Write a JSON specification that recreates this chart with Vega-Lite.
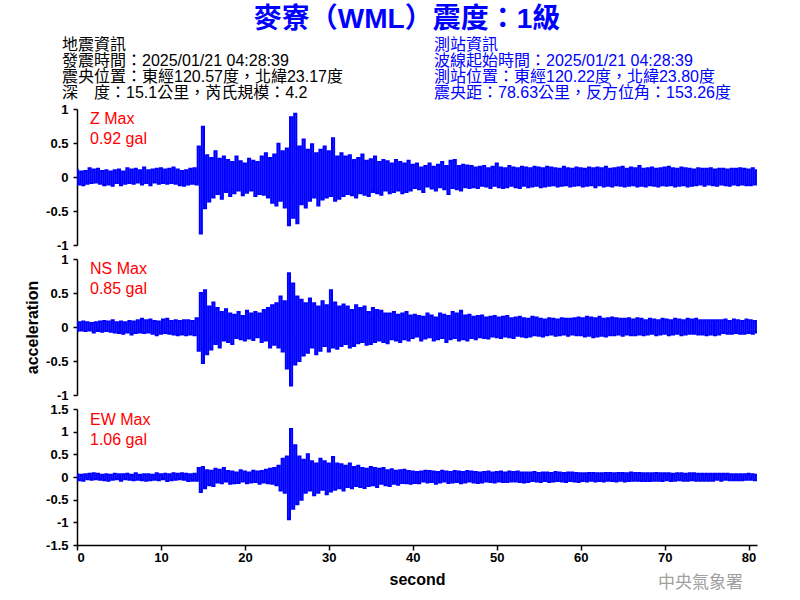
{
"$schema":"https://vega.github.io/schema/vega-lite/v6.json",
"background":"white",
"padding":{"left":24,"top":6,"right":5,"bottom":5},
"spacing":14,
"bounds":"flush",
"config":{
"font":"Liberation Sans",
"locale":{"number":{"decimal":".","thousands":",","grouping":[3],"currency":["$",""],"minus":"-"}},
"view":{"stroke":null},
"axis":{"domainColor":"#000000","domainWidth":1.5,"tickColor":"#000000","tickWidth":1.5,"labelColor":"#000000","labelFont":"Liberation Sans","labelFontSize":13,"labelFontWeight":"bold","labelOverlap":false,"titleFont":"Liberation Sans","titleFontSize":16,"titleFontWeight":"bold","titleColor":"#000000","grid":false},
"axisY":{"tickSize":4,"labelPadding":5,"titlePadding":5},
"axisX":{"tickSize":5,"labelPadding":1,"titlePadding":7}
},
"datasets":{
"info":[
{"side":"L","line":1,"text":"地震資訊"},
{"side":"L","line":2,"text":"發震時間：2025/01/21 04:28:39"},
{"side":"L","line":3,"text":"震央位置：東經120.57度，北緯23.17度"},
{"side":"L","line":4,"text":"深　度：15.1公里，芮氏規模：4.2"},
{"side":"R","line":1,"text":"測站資訊"},
{"side":"R","line":2,"text":"波線起始時間：2025/01/21 04:28:39"},
{"side":"R","line":3,"text":"測站位置：東經120.22度，北緯23.80度"},
{"side":"R","line":4,"text":"震央距：78.63公里，反方位角：153.26度"}
],
"w":[
{"t":0,"z":0.1,"n":-0.06,"e":0.06},
{"t":0.25,"z":-0.11,"n":0.07,"e":-0.07},
{"t":0.5,"z":0.08,"n":-0.05,"e":0.05},
{"t":0.75,"z":-0.12,"n":0.08,"e":-0.08},
{"t":1,"z":0.09,"n":-0.06,"e":0.06},
{"t":1.25,"z":-0.1,"n":0.07,"e":-0.05},
{"t":1.5,"z":0.13,"n":-0.05,"e":0.07},
{"t":1.75,"z":-0.09,"n":0.06,"e":-0.06},
{"t":2,"z":0.11,"n":-0.08,"e":0.08},
{"t":2.25,"z":-0.08,"n":0.07,"e":-0.05},
{"t":2.5,"z":0.12,"n":-0.06,"e":0.07},
{"t":2.75,"z":-0.1,"n":0.08,"e":-0.06},
{"t":3,"z":0.09,"n":-0.07,"e":0.05},
{"t":3.25,"z":-0.12,"n":0.09,"e":-0.07},
{"t":3.5,"z":0.1,"n":-0.06,"e":0.06},
{"t":3.75,"z":-0.11,"n":0.08,"e":-0.08},
{"t":4,"z":0.08,"n":-0.07,"e":0.05},
{"t":4.25,"z":-0.13,"n":0.1,"e":-0.06},
{"t":4.5,"z":0.1,"n":-0.08,"e":0.07},
{"t":4.75,"z":-0.09,"n":0.07,"e":-0.05},
{"t":5,"z":0.11,"n":-0.09,"e":0.06},
{"t":5.25,"z":-0.12,"n":0.08,"e":-0.08},
{"t":5.5,"z":0.08,"n":-0.1,"e":0.06},
{"t":5.75,"z":-0.1,"n":0.07,"e":-0.05},
{"t":6,"z":0.13,"n":-0.08,"e":0.07},
{"t":6.25,"z":-0.09,"n":0.09,"e":-0.06},
{"t":6.5,"z":0.11,"n":-0.11,"e":0.05},
{"t":6.75,"z":-0.1,"n":0.08,"e":-0.07},
{"t":7,"z":0.12,"n":-0.09,"e":0.08},
{"t":7.25,"z":-0.08,"n":0.1,"e":-0.06},
{"t":7.5,"z":0.1,"n":-0.08,"e":0.05},
{"t":7.75,"z":-0.11,"n":0.12,"e":-0.07},
{"t":8,"z":0.14,"n":-0.09,"e":0.06},
{"t":8.25,"z":-0.09,"n":0.1,"e":-0.08},
{"t":8.5,"z":0.1,"n":-0.08,"e":0.06},
{"t":8.75,"z":-0.12,"n":0.11,"e":-0.07},
{"t":9,"z":0.11,"n":-0.1,"e":0.05},
{"t":9.25,"z":-0.08,"n":0.09,"e":-0.06},
{"t":9.5,"z":0.12,"n":-0.12,"e":0.08},
{"t":9.75,"z":-0.1,"n":0.08,"e":-0.07},
{"t":10,"z":0.13,"n":-0.1,"e":0.06},
{"t":10.25,"z":-0.09,"n":0.11,"e":-0.05},
{"t":10.5,"z":0.11,"n":-0.09,"e":0.07},
{"t":10.75,"z":-0.1,"n":0.12,"e":-0.09},
{"t":11,"z":0.12,"n":-0.1,"e":0.06},
{"t":11.25,"z":-0.09,"n":0.09,"e":-0.07},
{"t":11.5,"z":0.14,"n":-0.11,"e":0.08},
{"t":11.75,"z":-0.1,"n":0.1,"e":-0.06},
{"t":12,"z":0.11,"n":-0.12,"e":0.07},
{"t":12.25,"z":-0.12,"n":0.09,"e":-0.05},
{"t":12.5,"z":0.09,"n":-0.11,"e":0.08},
{"t":12.75,"z":-0.13,"n":0.1,"e":-0.06},
{"t":13,"z":0.1,"n":-0.12,"e":0.07},
{"t":13.25,"z":-0.11,"n":0.1,"e":-0.09},
{"t":13.5,"z":0.12,"n":-0.11,"e":0.06},
{"t":13.75,"z":-0.1,"n":0.09,"e":-0.08},
{"t":14,"z":0.13,"n":-0.12,"e":0.07},
{"t":14.25,"z":-0.11,"n":0.13,"e":-0.08},
{"t":14.5,"z":0.45,"n":-0.35,"e":0.2},
{"t":14.75,"z":-0.83,"n":0.5,"e":-0.33},
{"t":15,"z":0.74,"n":-0.53,"e":0.22},
{"t":15.25,"z":-0.46,"n":0.54,"e":-0.25},
{"t":15.5,"z":0.32,"n":-0.4,"e":0.15},
{"t":15.75,"z":-0.36,"n":0.3,"e":-0.18},
{"t":16,"z":0.28,"n":-0.33,"e":0.14},
{"t":16.25,"z":-0.3,"n":0.36,"e":-0.2},
{"t":16.5,"z":0.38,"n":-0.25,"e":0.18},
{"t":16.75,"z":-0.25,"n":0.28,"e":-0.12},
{"t":17,"z":0.27,"n":-0.3,"e":0.16},
{"t":17.25,"z":-0.32,"n":0.22,"e":-0.14},
{"t":17.5,"z":0.3,"n":-0.2,"e":0.2},
{"t":17.75,"z":-0.22,"n":0.26,"e":-0.1},
{"t":18,"z":0.25,"n":-0.22,"e":0.13},
{"t":18.25,"z":-0.28,"n":0.2,"e":-0.15},
{"t":18.5,"z":0.22,"n":-0.25,"e":0.12},
{"t":18.75,"z":-0.24,"n":0.18,"e":-0.14},
{"t":19,"z":0.3,"n":-0.16,"e":0.1},
{"t":19.25,"z":-0.2,"n":0.22,"e":-0.13},
{"t":19.5,"z":0.23,"n":-0.18,"e":0.15},
{"t":19.75,"z":-0.27,"n":0.16,"e":-0.1},
{"t":20,"z":0.2,"n":-0.2,"e":0.12},
{"t":20.25,"z":-0.23,"n":0.24,"e":-0.14},
{"t":20.5,"z":0.27,"n":-0.17,"e":0.1},
{"t":20.75,"z":-0.2,"n":0.2,"e":-0.12},
{"t":21,"z":0.24,"n":-0.19,"e":0.14},
{"t":21.25,"z":-0.28,"n":0.22,"e":-0.11},
{"t":21.5,"z":0.22,"n":-0.15,"e":0.12},
{"t":21.75,"z":-0.25,"n":0.2,"e":-0.15},
{"t":22,"z":0.3,"n":-0.22,"e":0.13},
{"t":22.25,"z":-0.26,"n":0.25,"e":-0.12},
{"t":22.5,"z":0.35,"n":-0.2,"e":0.16},
{"t":22.75,"z":-0.3,"n":0.28,"e":-0.14},
{"t":23,"z":0.28,"n":-0.3,"e":0.18},
{"t":23.25,"z":-0.38,"n":0.32,"e":-0.15},
{"t":23.5,"z":0.33,"n":-0.26,"e":0.2},
{"t":23.75,"z":-0.42,"n":0.35,"e":-0.18},
{"t":24,"z":0.49,"n":-0.3,"e":0.25},
{"t":24.25,"z":-0.35,"n":0.45,"e":-0.3},
{"t":24.5,"z":0.38,"n":-0.36,"e":0.4},
{"t":24.75,"z":-0.45,"n":0.38,"e":-0.35},
{"t":25,"z":0.42,"n":-0.61,"e":0.45},
{"t":25.25,"z":-0.71,"n":0.79,"e":-0.93},
{"t":25.5,"z":0.88,"n":-0.86,"e":1.06},
{"t":25.75,"z":-0.6,"n":0.64,"e":-0.7},
{"t":26,"z":0.93,"n":-0.55,"e":0.7},
{"t":26.25,"z":-0.68,"n":0.45,"e":-0.6},
{"t":26.5,"z":0.45,"n":-0.5,"e":0.45},
{"t":26.75,"z":-0.4,"n":0.4,"e":-0.5},
{"t":27,"z":0.55,"n":-0.42,"e":0.38},
{"t":27.25,"z":-0.45,"n":0.35,"e":-0.35},
{"t":27.5,"z":0.4,"n":-0.38,"e":0.5},
{"t":27.75,"z":-0.35,"n":0.42,"e":-0.3},
{"t":28,"z":0.48,"n":-0.3,"e":0.35},
{"t":28.25,"z":-0.3,"n":0.35,"e":-0.4},
{"t":28.5,"z":0.35,"n":-0.4,"e":0.3},
{"t":28.75,"z":-0.42,"n":0.3,"e":-0.35},
{"t":29,"z":0.4,"n":-0.35,"e":0.4},
{"t":29.25,"z":-0.33,"n":0.38,"e":-0.28},
{"t":29.5,"z":0.45,"n":-0.28,"e":0.35},
{"t":29.75,"z":-0.3,"n":0.32,"e":-0.38},
{"t":30,"z":0.38,"n":-0.36,"e":0.3},
{"t":30.25,"z":-0.28,"n":0.54,"e":-0.32},
{"t":30.5,"z":0.57,"n":-0.3,"e":0.44},
{"t":30.75,"z":-0.35,"n":0.36,"e":-0.28},
{"t":31,"z":0.3,"n":-0.32,"e":0.3},
{"t":31.25,"z":-0.32,"n":0.3,"e":-0.25},
{"t":31.5,"z":0.35,"n":-0.28,"e":0.28},
{"t":31.75,"z":-0.28,"n":0.33,"e":-0.3},
{"t":32,"z":0.3,"n":-0.25,"e":0.25},
{"t":32.25,"z":-0.25,"n":0.3,"e":-0.22},
{"t":32.5,"z":0.32,"n":-0.3,"e":0.3},
{"t":32.75,"z":-0.27,"n":0.25,"e":-0.25},
{"t":33,"z":0.25,"n":-0.28,"e":0.22},
{"t":33.25,"z":-0.3,"n":0.32,"e":-0.2},
{"t":33.5,"z":0.28,"n":-0.24,"e":0.25},
{"t":33.75,"z":-0.24,"n":0.28,"e":-0.22},
{"t":34,"z":0.33,"n":-0.22,"e":0.2},
{"t":34.25,"z":-0.26,"n":0.3,"e":-0.24},
{"t":34.5,"z":0.24,"n":-0.26,"e":0.18},
{"t":34.75,"z":-0.28,"n":0.22,"e":-0.2},
{"t":35,"z":0.26,"n":-0.25,"e":0.22},
{"t":35.25,"z":-0.22,"n":0.28,"e":-0.18},
{"t":35.5,"z":0.3,"n":-0.22,"e":0.2},
{"t":35.75,"z":-0.24,"n":0.25,"e":-0.22},
{"t":36,"z":0.22,"n":-0.2,"e":0.18},
{"t":36.25,"z":-0.26,"n":0.24,"e":-0.15},
{"t":36.5,"z":0.25,"n":-0.22,"e":0.2},
{"t":36.75,"z":-0.2,"n":0.2,"e":-0.18},
{"t":37,"z":0.23,"n":-0.24,"e":0.15},
{"t":37.25,"z":-0.24,"n":0.2,"e":-0.2},
{"t":37.5,"z":0.2,"n":-0.18,"e":0.17},
{"t":37.75,"z":-0.22,"n":0.22,"e":-0.15},
{"t":38,"z":0.25,"n":-0.2,"e":0.14},
{"t":38.25,"z":-0.2,"n":0.18,"e":-0.17},
{"t":38.5,"z":0.22,"n":-0.22,"e":0.15},
{"t":38.75,"z":-0.24,"n":0.2,"e":-0.13},
{"t":39,"z":0.2,"n":-0.18,"e":0.16},
{"t":39.25,"z":-0.22,"n":0.22,"e":-0.14},
{"t":39.5,"z":0.24,"n":-0.2,"e":0.13},
{"t":39.75,"z":-0.2,"n":0.17,"e":-0.15},
{"t":40,"z":0.18,"n":-0.16,"e":0.12},
{"t":40.25,"z":-0.16,"n":0.18,"e":-0.13},
{"t":40.5,"z":0.2,"n":-0.14,"e":0.11},
{"t":40.75,"z":-0.18,"n":0.16,"e":-0.14},
{"t":41,"z":0.14,"n":-0.2,"e":0.12},
{"t":41.25,"z":-0.22,"n":0.15,"e":-0.1},
{"t":41.5,"z":0.16,"n":-0.17,"e":0.14},
{"t":41.75,"z":-0.14,"n":0.2,"e":-0.12},
{"t":42,"z":0.2,"n":-0.15,"e":0.13},
{"t":42.25,"z":-0.17,"n":0.17,"e":-0.11},
{"t":42.5,"z":0.15,"n":-0.2,"e":0.12},
{"t":42.75,"z":-0.2,"n":0.14,"e":-0.15},
{"t":43,"z":0.18,"n":-0.18,"e":0.11},
{"t":43.25,"z":-0.15,"n":0.2,"e":-0.12},
{"t":43.5,"z":0.22,"n":-0.16,"e":0.14},
{"t":43.75,"z":-0.18,"n":0.18,"e":-0.1},
{"t":44,"z":0.16,"n":-0.22,"e":0.12},
{"t":44.25,"z":-0.25,"n":0.16,"e":-0.13},
{"t":44.5,"z":0.24,"n":-0.18,"e":0.11},
{"t":44.75,"z":-0.16,"n":0.22,"e":-0.12},
{"t":45,"z":0.25,"n":-0.16,"e":0.13},
{"t":45.25,"z":-0.18,"n":0.2,"e":-0.11},
{"t":45.5,"z":0.16,"n":-0.2,"e":0.12},
{"t":45.75,"z":-0.2,"n":0.24,"e":-0.14},
{"t":46,"z":0.18,"n":-0.18,"e":0.11},
{"t":46.25,"z":-0.15,"n":0.17,"e":-0.12},
{"t":46.5,"z":0.17,"n":-0.2,"e":0.13},
{"t":46.75,"z":-0.16,"n":0.18,"e":-0.1},
{"t":47,"z":0.16,"n":-0.16,"e":0.12},
{"t":47.25,"z":-0.15,"n":0.15,"e":-0.12},
{"t":47.5,"z":0.14,"n":-0.18,"e":0.11},
{"t":47.75,"z":-0.16,"n":0.16,"e":-0.13},
{"t":48,"z":0.15,"n":-0.15,"e":0.1},
{"t":48.25,"z":-0.13,"n":0.17,"e":-0.12},
{"t":48.5,"z":0.16,"n":-0.16,"e":0.11},
{"t":48.75,"z":-0.14,"n":0.14,"e":-0.1},
{"t":49,"z":0.13,"n":-0.17,"e":0.12},
{"t":49.25,"z":-0.16,"n":0.15,"e":-0.11},
{"t":49.5,"z":0.15,"n":-0.14,"e":0.1},
{"t":49.75,"z":-0.13,"n":0.16,"e":-0.12},
{"t":50,"z":0.2,"n":-0.15,"e":0.11},
{"t":50.25,"z":-0.15,"n":0.14,"e":-0.1},
{"t":50.5,"z":0.14,"n":-0.16,"e":0.12},
{"t":50.75,"z":-0.16,"n":0.15,"e":-0.11},
{"t":51,"z":0.13,"n":-0.14,"e":0.1},
{"t":51.25,"z":-0.15,"n":0.16,"e":-0.11},
{"t":51.5,"z":0.16,"n":-0.15,"e":0.12},
{"t":51.75,"z":-0.13,"n":0.13,"e":-0.1},
{"t":52,"z":0.14,"n":-0.16,"e":0.11},
{"t":52.25,"z":-0.15,"n":0.14,"e":-0.1},
{"t":52.5,"z":0.13,"n":-0.13,"e":0.12},
{"t":52.75,"z":-0.16,"n":0.15,"e":-0.11},
{"t":53,"z":0.15,"n":-0.14,"e":0.1},
{"t":53.25,"z":-0.13,"n":0.13,"e":-0.12},
{"t":53.5,"z":0.14,"n":-0.15,"e":0.1},
{"t":53.75,"z":-0.15,"n":0.12,"e":-0.11},
{"t":54,"z":0.13,"n":-0.14,"e":0.1},
{"t":54.25,"z":-0.14,"n":0.15,"e":-0.09},
{"t":54.5,"z":0.15,"n":-0.12,"e":0.11},
{"t":54.75,"z":-0.13,"n":0.14,"e":-0.1},
{"t":55,"z":0.14,"n":-0.13,"e":0.09},
{"t":55.25,"z":-0.15,"n":0.12,"e":-0.11},
{"t":55.5,"z":0.13,"n":-0.14,"e":0.1},
{"t":55.75,"z":-0.14,"n":0.11,"e":-0.09},
{"t":56,"z":0.15,"n":-0.12,"e":0.1},
{"t":56.25,"z":-0.13,"n":0.13,"e":-0.11},
{"t":56.5,"z":0.14,"n":-0.11,"e":0.09},
{"t":56.75,"z":-0.12,"n":0.12,"e":-0.1},
{"t":57,"z":0.13,"n":-0.13,"e":0.11},
{"t":57.25,"z":-0.14,"n":0.11,"e":-0.09},
{"t":57.5,"z":0.12,"n":-0.12,"e":0.1},
{"t":57.75,"z":-0.13,"n":0.13,"e":-0.1},
{"t":58,"z":0.15,"n":-0.11,"e":0.09},
{"t":58.25,"z":-0.12,"n":0.12,"e":-0.11},
{"t":58.5,"z":0.13,"n":-0.13,"e":0.1},
{"t":58.75,"z":-0.14,"n":0.12,"e":-0.09},
{"t":59,"z":0.12,"n":-0.11,"e":0.1},
{"t":59.25,"z":-0.13,"n":0.13,"e":-0.1},
{"t":59.5,"z":0.14,"n":-0.12,"e":0.09},
{"t":59.75,"z":-0.12,"n":0.14,"e":-0.11},
{"t":60,"z":0.13,"n":-0.12,"e":0.08},
{"t":60.25,"z":-0.14,"n":0.13,"e":-0.09},
{"t":60.5,"z":0.12,"n":-0.14,"e":0.08},
{"t":60.75,"z":-0.13,"n":0.15,"e":-0.1},
{"t":61,"z":0.14,"n":-0.13,"e":0.09},
{"t":61.25,"z":-0.12,"n":0.14,"e":-0.08},
{"t":61.5,"z":0.13,"n":-0.15,"e":0.09},
{"t":61.75,"z":-0.15,"n":0.13,"e":-0.1},
{"t":62,"z":0.14,"n":-0.14,"e":0.08},
{"t":62.25,"z":-0.12,"n":0.15,"e":-0.09},
{"t":62.5,"z":0.13,"n":-0.13,"e":0.08},
{"t":62.75,"z":-0.14,"n":0.12,"e":-0.1},
{"t":63,"z":0.15,"n":-0.14,"e":0.09},
{"t":63.25,"z":-0.13,"n":0.13,"e":-0.08},
{"t":63.5,"z":0.12,"n":-0.12,"e":0.09},
{"t":63.75,"z":-0.14,"n":0.14,"e":-0.09},
{"t":64,"z":0.13,"n":-0.12,"e":0.08},
{"t":64.25,"z":-0.12,"n":0.13,"e":-0.1},
{"t":64.5,"z":0.14,"n":-0.11,"e":0.09},
{"t":64.75,"z":-0.13,"n":0.12,"e":-0.08},
{"t":65,"z":0.15,"n":-0.13,"e":0.09},
{"t":65.25,"z":-0.14,"n":0.12,"e":-0.1},
{"t":65.5,"z":0.12,"n":-0.11,"e":0.08},
{"t":65.75,"z":-0.13,"n":0.13,"e":-0.09},
{"t":66,"z":0.14,"n":-0.12,"e":0.1},
{"t":66.25,"z":-0.12,"n":0.11,"e":-0.08},
{"t":66.5,"z":0.13,"n":-0.12,"e":0.09},
{"t":66.75,"z":-0.14,"n":0.13,"e":-0.08},
{"t":67,"z":0.16,"n":-0.11,"e":0.09},
{"t":67.25,"z":-0.13,"n":0.12,"e":-0.09},
{"t":67.5,"z":0.12,"n":-0.12,"e":0.08},
{"t":67.75,"z":-0.14,"n":0.1,"e":-0.09},
{"t":68,"z":0.13,"n":-0.11,"e":0.08},
{"t":68.25,"z":-0.12,"n":0.12,"e":-0.09},
{"t":68.5,"z":0.14,"n":-0.1,"e":0.08},
{"t":68.75,"z":-0.13,"n":0.11,"e":-0.08},
{"t":69,"z":0.12,"n":-0.12,"e":0.09},
{"t":69.25,"z":-0.14,"n":0.1,"e":-0.08},
{"t":69.5,"z":0.13,"n":-0.11,"e":0.08},
{"t":69.75,"z":-0.12,"n":0.12,"e":-0.09},
{"t":70,"z":0.14,"n":-0.1,"e":0.08},
{"t":70.25,"z":-0.13,"n":0.11,"e":-0.07},
{"t":70.5,"z":0.15,"n":-0.12,"e":0.08},
{"t":70.75,"z":-0.12,"n":0.1,"e":-0.09},
{"t":71,"z":0.13,"n":-0.11,"e":0.07},
{"t":71.25,"z":-0.14,"n":0.12,"e":-0.08},
{"t":71.5,"z":0.12,"n":-0.1,"e":0.08},
{"t":71.75,"z":-0.13,"n":0.11,"e":-0.07},
{"t":72,"z":0.14,"n":-0.12,"e":0.08},
{"t":72.25,"z":-0.12,"n":0.1,"e":-0.08},
{"t":72.5,"z":0.13,"n":-0.11,"e":0.07},
{"t":72.75,"z":-0.14,"n":0.12,"e":-0.08},
{"t":73,"z":0.12,"n":-0.1,"e":0.08},
{"t":73.25,"z":-0.13,"n":0.11,"e":-0.07},
{"t":73.5,"z":0.11,"n":-0.1,"e":0.08},
{"t":73.75,"z":-0.12,"n":0.12,"e":-0.08},
{"t":74,"z":0.13,"n":-0.11,"e":0.07},
{"t":74.25,"z":-0.11,"n":0.1,"e":-0.08},
{"t":74.5,"z":0.12,"n":-0.11,"e":0.07},
{"t":74.75,"z":-0.13,"n":0.1,"e":-0.08},
{"t":75,"z":0.12,"n":-0.12,"e":0.07},
{"t":75.25,"z":-0.11,"n":0.1,"e":-0.08},
{"t":75.5,"z":0.13,"n":-0.11,"e":0.07},
{"t":75.75,"z":-0.12,"n":0.1,"e":-0.08},
{"t":76,"z":0.11,"n":-0.12,"e":0.07},
{"t":76.25,"z":-0.13,"n":0.1,"e":-0.06},
{"t":76.5,"z":0.12,"n":-0.11,"e":0.07},
{"t":76.75,"z":-0.11,"n":0.1,"e":-0.08},
{"t":77,"z":0.12,"n":-0.09,"e":0.07},
{"t":77.25,"z":-0.12,"n":0.11,"e":-0.06},
{"t":77.5,"z":0.11,"n":-0.1,"e":0.07},
{"t":77.75,"z":-0.13,"n":0.09,"e":-0.07},
{"t":78,"z":0.12,"n":-0.1,"e":0.06},
{"t":78.25,"z":-0.11,"n":0.11,"e":-0.07},
{"t":78.5,"z":0.12,"n":-0.09,"e":0.06},
{"t":78.75,"z":-0.12,"n":0.1,"e":-0.07},
{"t":79,"z":0.13,"n":-0.1,"e":0.06},
{"t":79.25,"z":-0.11,"n":0.09,"e":-0.07},
{"t":79.5,"z":0.12,"n":-0.1,"e":0.06},
{"t":79.75,"z":-0.12,"n":0.11,"e":-0.06},
{"t":80,"z":0.11,"n":-0.09,"e":0.07},
{"t":80.25,"z":-0.12,"n":0.1,"e":-0.06},
{"t":80.5,"z":0.13,"n":-0.1,"e":0.06},
{"t":80.75,"z":-0.11,"n":0.09,"e":-0.07},
{"t":81,"z":0.1,"n":-0.08,"e":0.05}
]
},
"vconcat":[
{
"width":680,"height":64,
"title":{"text":"麥寮（WML）震度：1級","font":"Liberation Sans, Noto Sans CJK TC","fontSize":28,"fontWeight":"bold","color":"#0000FF","anchor":"middle","frame":"group","offset":-3,"dx":-10},
"data":{"name":"info"},
"mark":{"type":"text","align":"left","baseline":"middle","font":"Liberation Sans, Noto Sans CJK TC","fontSize":16},
"encoding":{
"x":{"field":"side","type":"nominal","scale":{"type":"point","domain":["L","R"],"range":[-15,357],"padding":0},"axis":null},
"y":{"field":"line","type":"ordinal","scale":{"type":"point","range":[14,62],"padding":0},"axis":null},
"color":{"field":"side","type":"nominal","scale":{"domain":["L","R"],"range":["#000000","#0000FF"]},"legend":null},
"text":{"field":"text","type":"nominal"}
}
},
{
"width":680,"height":136,
"resolve":{"axis":{"x":"independent","y":"independent"}},
"layer":[
{"data":{"name":"w"},
"mark":{"type":"line","color":"#0000FF","strokeWidth":2,"interpolate":"step","clip":true},
"encoding":{
"x":{"field":"t","type":"quantitative","scale":{"domain":[0,81],"nice":false,"zero":false},"axis":null},
"y":{"field":"z","type":"quantitative","scale":{"domain":[-1,1],"nice":false},"axis":{"values":[-1,-0.5,0,0.5,1],"format":"~g","title":null,"labelOverlap":false}}}},
{"data":{"values":[{"channel":"Z"}]},
"mark":{"type":"text","text":["Z Max","0.92 gal"],"color":"#FF0000","font":"Liberation Sans","fontSize":16,"align":"left","baseline":"middle","lineHeight":20},
"encoding":{"x":{"datum":1.55,"type":"quantitative","axis":null},"y":{"datum":0.853,"type":"quantitative","axis":null}}}
]
},
{
"width":680,"height":136,
"resolve":{"axis":{"x":"independent","y":"independent"}},
"layer":[
{"data":{"name":"w"},
"mark":{"type":"line","color":"#0000FF","strokeWidth":2,"interpolate":"step","clip":true},
"encoding":{
"x":{"field":"t","type":"quantitative","scale":{"domain":[0,81],"nice":false,"zero":false},"axis":null},
"y":{"field":"n","type":"quantitative","scale":{"domain":[-1,1],"nice":false},"axis":{"values":[-1,-0.5,0,0.5,1],"format":"~g","title":"acceleration","labelOverlap":false}}}},
{"data":{"values":[{"channel":"NS"}]},
"mark":{"type":"text","text":["NS Max","0.85 gal"],"color":"#FF0000","font":"Liberation Sans","fontSize":16,"align":"left","baseline":"middle","lineHeight":20},
"encoding":{"x":{"datum":1.55,"type":"quantitative","axis":null},"y":{"datum":0.853,"type":"quantitative","axis":null}}}
]
},
{
"width":680,"height":136,
"resolve":{"axis":{"x":"independent","y":"independent"}},
"title":{"text":"中央氣象署","orient":"bottom","anchor":"end","frame":"group","font":"Noto Sans CJK TC","fontSize":17,"fontWeight":"normal","color":"#A0A0A0","offset":-12,"dx":-14},
"layer":[
{"data":{"name":"w"},
"mark":{"type":"line","color":"#0000FF","strokeWidth":2,"interpolate":"step","clip":true},
"encoding":{
"x":{"field":"t","type":"quantitative","scale":{"domain":[0,81],"nice":false,"zero":false},"axis":{"values":[0,10,20,30,40,50,60,70,80],"title":"second","labelOverlap":false}},
"y":{"field":"e","type":"quantitative","scale":{"domain":[-1.5,1.5],"nice":false},"axis":{"values":[-1.5,-1,-0.5,0,0.5,1,1.5],"format":"~g","title":null,"labelOverlap":false}}}},
{"data":{"values":[{"channel":"EW"}]},
"mark":{"type":"text","text":["EW Max","1.06 gal"],"color":"#FF0000","font":"Liberation Sans","fontSize":16,"align":"left","baseline":"middle","lineHeight":20},
"encoding":{"x":{"datum":1.55,"type":"quantitative","axis":null},"y":{"datum":1.267,"type":"quantitative","axis":null}}}
]
}
]
}
